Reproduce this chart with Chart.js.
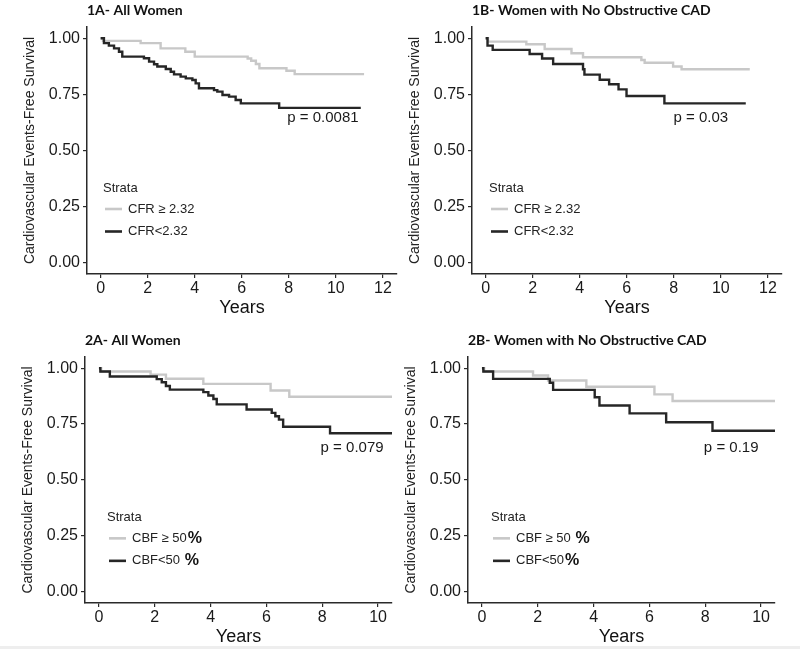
<!DOCTYPE html>
<html>
<head>
<meta charset="utf-8">
<script src="https://cdn.jsdelivr.net/npm/chart.js@4.4.1/dist/chart.umd.min.js"></script>
<style>
  body { margin: 0; background: #fff; width: 800px; height: 649px; position: relative; overflow: hidden; }
  canvas { position: absolute; }
  .edge { position: absolute; left: 0; bottom: 0; width: 800px; height: 3px; background: #eeeeee; }
</style>
</head>
<body>
<canvas id="c1A" width="400" height="320" style="left:0px;top:0px"></canvas>
<canvas id="c1B" width="400" height="320" style="left:385px;top:0px"></canvas>
<canvas id="c2A" width="397" height="319" style="left:-2px;top:330px"></canvas>
<canvas id="c2B" width="397" height="319" style="left:381px;top:330px"></canvas>
<div class="edge"></div>
<script>
// survival curves (time in years, survival fraction)
const t1A_hi = [0, 0.1, 1.7, 2.55, 3.6, 4.0, 6.25, 6.4, 6.6, 6.75, 7.9, 8.25, 11.2];
const s1A_hi = [1, 0.988, 0.978, 0.955, 0.94, 0.918, 0.91, 0.9, 0.885, 0.866, 0.855, 0.84, 0.84];
const t1A_lo = [0, 0.14, 0.35, 0.57, 0.78, 0.92, 1.84, 2.06, 2.27, 2.41, 2.77, 2.98, 3.12, 3.40, 3.62, 3.90, 4.04, 4.18, 4.82, 4.96, 5.18, 5.46, 5.74, 5.96, 7.59, 11.06];
const s1A_lo = [1, 0.978, 0.967, 0.955, 0.94, 0.918, 0.911, 0.896, 0.884, 0.874, 0.863, 0.851, 0.839, 0.829, 0.821, 0.814, 0.799, 0.777, 0.769, 0.762, 0.747, 0.740, 0.725, 0.710, 0.690, 0.690];

const t1B_hi = [0, 0.1, 1.73, 2.51, 3.65, 4.14, 6.62, 6.76, 7.97, 8.33, 11.23];
const s1B_hi = [1, 0.985, 0.973, 0.952, 0.933, 0.915, 0.903, 0.891, 0.874, 0.862, 0.862];
const t1B_lo = [0, 0.08, 0.3, 1.87, 2.4, 2.87, 4.14, 4.2, 4.85, 5.25, 5.65, 5.99, 7.6, 11.06];
const s1B_lo = [1, 0.967, 0.948, 0.93, 0.91, 0.885, 0.862, 0.838, 0.815, 0.795, 0.772, 0.743, 0.71, 0.71];

const t2A_hi = [0, 0.08, 1.85, 2.4, 3.74, 6.15, 6.82, 10.5];
const s2A_hi = [1, 0.985, 0.971, 0.953, 0.93, 0.9, 0.872, 0.872];
const t2A_lo = [0, 0.05, 0.39, 2.07, 2.25, 2.4, 2.54, 3.74, 3.92, 4.1, 4.22, 5.29, 6.19, 6.32, 6.45, 6.6, 8.28, 10.5];
const s2A_lo = [1, 0.985, 0.963, 0.951, 0.937, 0.92, 0.904, 0.893, 0.878, 0.862, 0.838, 0.815, 0.8, 0.785, 0.77, 0.738, 0.709, 0.709];

const t2B_hi = [0, 0.08, 1.83, 2.37, 3.74, 6.18, 6.83, 10.5];
const s2B_hi = [1, 0.985, 0.967, 0.945, 0.917, 0.883, 0.853, 0.853];
const t2B_lo = [0, 0.05, 0.4, 2.43, 2.55, 4.04, 4.21, 5.29, 6.6, 8.26, 10.5];
const s2B_lo = [1, 0.985, 0.952, 0.935, 0.903, 0.87, 0.833, 0.798, 0.758, 0.72, 0.72];

const yTicks = [0, 0.25, 0.5, 0.75, 1];
const yTickLabels = ['0.00', '0.25', '0.50', '0.75', '1.00'];
const xTicksRow1 = [0, 2, 4, 6, 8, 10, 12];
const xTicksRow2 = [0, 2, 4, 6, 8, 10];

const titles = ['1A- All Women', '1B- Women with No Obstructive CAD', '2A- All Women', '2B- Women with No Obstructive CAD'];
const pValues = ['p = 0.0081', 'p = 0.03', 'p = 0.079', 'p = 0.19'];
// legend entries: [plain text, bold part]
const legendCFR = [['CFR \u2265 2.32', ''], ['CFR<2.32', '']];
const legend2A = [['CBF \u2265 50', '%'], ['CBF<50 ', '%']];
const legend2B = [['CBF \u2265 50 ', '%'], ['CBF<50', '%']];

const GRAY = '#c8c8c8';
const DARK = '#262626';
const AXIS = '#2a2a2a';

function toPoints(ts, ss) {
  return ts.map((t, i) => ({ x: t, y: ss[i] }));
}

// p-value and the "Strata" legend inside the panel
const kmText = {
  id: 'kmText',
  afterDatasetsDraw(chart, args, opts) {
    const { ctx, chartArea, scales } = chart;
    ctx.save();
    ctx.fillStyle = '#1a1a1a';
    ctx.font = '15px "Liberation Sans", Arial';
    ctx.textAlign = 'center';
    ctx.textBaseline = 'middle';
    ctx.fillText(opts.pText, scales.x.getPixelForValue(opts.pAt[0]), scales.y.getPixelForValue(opts.pAt[1]));

    const lx = chartArea.left + opts.dx;
    const y0 = scales.y.getPixelForValue(0.333);
    ctx.textAlign = 'left';
    ctx.font = '13px "Liberation Sans", Arial';
    ctx.fillStyle = '#222';
    ctx.fillText('Strata', lx, y0);
    const colors = [GRAY, DARK];
    opts.items.forEach((item, i) => {
      const y = y0 + 21 + i * 22.5;
      ctx.strokeStyle = colors[i];
      ctx.lineWidth = 2.6;
      ctx.beginPath();
      ctx.moveTo(lx + 2, y);
      ctx.lineTo(lx + 19, y);
      ctx.stroke();
      ctx.font = '13px "Liberation Sans", Arial';
      ctx.fillStyle = '#222';
      ctx.fillText(item[0], lx + 25, y);
      if (item[1]) {
        const w = ctx.measureText(item[0]).width;
        ctx.font = 'bold 16px "Liberation Sans", Arial';
        ctx.fillStyle = '#111';
        ctx.fillText(item[1], lx + 25 + w + 1, y);
      }
    });
    ctx.restore();
  }
};

function drawPanel(id, cfg) {
  new Chart(document.getElementById(id), {
    type: 'line',
    data: {
      datasets: [
        { label: 'low', data: toPoints(cfg.loT, cfg.loS), borderColor: DARK, borderWidth: 2.4, stepped: 'before', pointRadius: 0, fill: false },
        { label: 'high', data: toPoints(cfg.hiT, cfg.hiS), borderColor: GRAY, borderWidth: 2.4, stepped: 'before', pointRadius: 0, fill: false }
      ]
    },
    options: {
      responsive: false,
      animation: false,
      devicePixelRatio: 1,
      layout: { padding: { left: 0, right: 3, top: 0, bottom: 0 } },
      plugins: {
        legend: { display: false },
        tooltip: { enabled: false },
        title: {
          display: true, text: cfg.title, align: 'start', fullSize: false, color: '#111',
          font: { family: 'Lato', weight: 'bold', size: 14, lineHeight: 1.2 },
          padding: { top: 2.5, bottom: 7.7 }
        },
        kmText: { pText: cfg.pText, pAt: cfg.pAt, dx: cfg.legendDx, items: cfg.legend }
      },
      scales: {
        x: {
          type: 'linear', min: cfg.xMin, max: cfg.xMax,
          afterBuildTicks: s => { s.ticks = cfg.xTicks.map(v => ({ value: v })); },
          afterFit: s => { s.height = 46; },
          grid: { drawOnChartArea: false, tickLength: 4, color: AXIS, lineWidth: 1.2 },
          border: { display: true, color: AXIS, width: 1.5 },
          ticks: { color: '#1a1a1a', padding: 1, maxRotation: 0, font: { family: 'Liberation Sans', size: 16 } },
          title: { display: true, text: 'Years', color: '#111', font: { family: 'Liberation Sans', size: 18, lineHeight: 1.2 }, padding: { top: 0, bottom: 1 } }
        },
        y: {
          type: 'linear', min: -0.05, max: 1.05,
          afterBuildTicks: s => { s.ticks = yTicks.map(v => ({ value: v })); },
          afterFit: s => { s.width = 87; },
          grid: { drawOnChartArea: false, tickLength: 4, color: AXIS, lineWidth: 1.2 },
          border: { display: true, color: AXIS, width: 1.5 },
          ticks: {
            color: '#1a1a1a', padding: 3, font: { family: 'Liberation Sans', size: 16 },
            callback: v => yTickLabels[yTicks.indexOf(v)]
          },
          title: { display: true, text: 'Cardiovascular Events-Free Survival', color: '#222', font: { family: 'Liberation Sans', size: 14, lineHeight: 1.2 }, padding: { top: 21.6, bottom: 0 } }
        }
      }
    },
    plugins: [kmText]
  });
}

drawPanel('c1A', { title: titles[0], pText: pValues[0], pAt: [9.45, 0.644], legendDx: 16, legend: legendCFR,
  hiT: t1A_hi, hiS: s1A_hi, loT: t1A_lo, loS: s1A_lo, xMin: -0.58, xMax: 12.6, xTicks: xTicksRow1 });
drawPanel('c1B', { title: titles[1], pText: pValues[1], pAt: [9.15, 0.644], legendDx: 17, legend: legendCFR,
  hiT: t1B_hi, hiS: s1B_hi, loT: t1B_lo, loS: s1B_lo, xMin: -0.58, xMax: 12.6, xTicks: xTicksRow1 });
drawPanel('c2A', { title: titles[2], pText: pValues[2], pAt: [9.07, 0.644], legendDx: 22, legend: legend2A,
  hiT: t2A_hi, hiS: s2A_hi, loT: t2A_lo, loS: s2A_lo, xMin: -0.5, xMax: 10.5, xTicks: xTicksRow2 });
drawPanel('c2B', { title: titles[3], pText: pValues[3], pAt: [8.93, 0.644], legendDx: 23, legend: legend2B,
  hiT: t2B_hi, hiS: s2B_hi, loT: t2B_lo, loS: s2B_lo, xMin: -0.5, xMax: 10.5, xTicks: xTicksRow2 });
</script>
</body>
</html>
